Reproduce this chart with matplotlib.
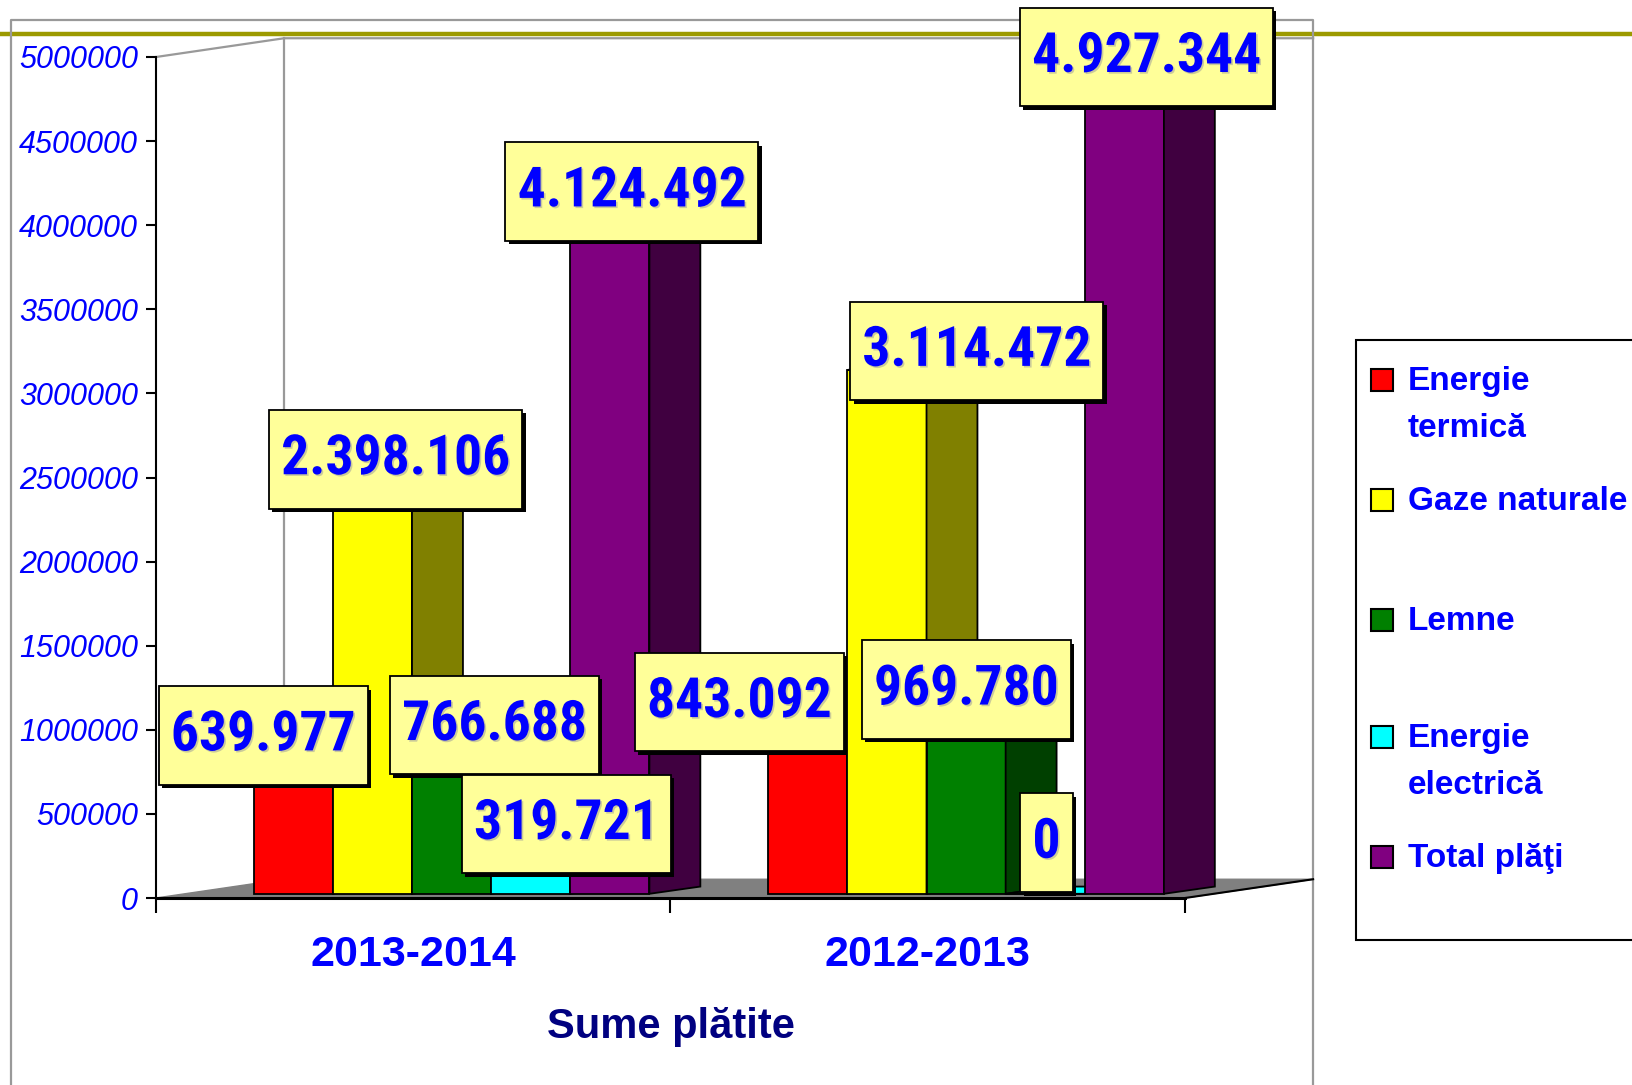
import matplotlib.pyplot as plt
import matplotlib.patheffects as pe
from matplotlib.patches import Polygon, Rectangle
from matplotlib.lines import Line2D
from matplotlib.path import Path

# data
categories = ['2013-2014', '2012-2013']
series = ['Energie\ntermică', 'Gaze naturale', 'Lemne', 'Energie\nelectrică', 'Total plăţi']
energie_termica = [639977, 843092]
gaze_naturale = [2398106, 3114472]
lemne = [766688, 969780]
energie_electrica = [319721, 0]
total_plati = [4124492, 4927344]
values = [energie_termica, gaze_naturale, lemne, energie_electrica, total_plati]
yticks = list(range(0, 5000001, 500000))

# styles
front_colors = ['#ff0000', '#ffff00', '#008000', '#00ffff', '#800080']
side_colors = ['#800000', '#808000', '#004000', '#008080', '#400040']
blue = '#0000ff'
narrow = ['Roboto Condensed', 'Liberation Sans', 'DejaVu Sans']
wide = ['Liberation Sans', 'DejaVu Sans']

# label box centres (layout, data coords): one per series per category
label_pos = [[(0.2085, 966600), (1.1336, 1164800)],
             [(0.4656, 2608400), (1.5951, 3252800)],
             [(0.6579, 1028500), (1.5749, 1239200)],
             [(0.7976, 439900), (1.7308, 328400)],
             [(0.9251, 4200700), (1.9251, 5000000)]]

W, H = 1633, 1085
fig = plt.figure(figsize=(W / 100, H / 100), dpi=100)


def fx(px):
    return px / W


def fy(py):
    return 1 - py / H


def tall_box(x0, y0, width, height, mutation_size):
    # square box with more room above and below than at the sides
    px, py = 0.22 * mutation_size, 0.42 * mutation_size
    x0, y0 = x0 - px, y0 - py
    x1, y1 = x0 + width + 2 * px, y0 + height + 2 * py
    return Path([(x0, y0), (x1, y0), (x1, y1), (x0, y1), (x0, y0)], closed=True)


# olive rule across the slide, under everything
fig.add_artist(Line2D([0, 1], [fy(34), fy(34)], color='#9c9a00', lw=3.2, zorder=-2))
# outer chart frame
fig.add_artist(Line2D([fx(11), fx(11), fx(1313), fx(1313)], [fy(1100), fy(20), fy(20), fy(1100)],
                      color='#999999', lw=1.6, zorder=-1))

ax = fig.add_axes([fx(156), fy(898), fx(1185) - fx(156), fy(57) - fy(898)])
ax.patch.set_visible(False)
ax.set_xlim(0, 2)
ax.set_ylim(0, 5000000)

# 3d look
wall_dx, wall_dy = 0.249, 111500
bar_dx, bar_dy = 0.099, 43000
bar_w, bar_off, bar_base = 0.1538, 0.19, 25000

# floor and back wall
ax.add_patch(Polygon([(0, 0), (2, 0), (2 + wall_dx, wall_dy), (wall_dx, wall_dy)],
                     closed=True, facecolor='#808080', edgecolor='#808080', lw=1, zorder=1, clip_on=False))
ax.plot([2, 2 + wall_dx], [0, wall_dy], color='black', lw=1.5, zorder=2, clip_on=False)
ax.plot([0, wall_dx, 2 + wall_dx], [5000000, 5000000 + wall_dy, 5000000 + wall_dy],
        color='#999999', lw=1.6, zorder=1, clip_on=False)
ax.plot([wall_dx, wall_dx], [wall_dy, 5000000 + wall_dy], color='#999999', lw=1.6, zorder=1, clip_on=False)

for i, vals in enumerate(values):
    xs = [g + bar_off + i * bar_w for g in range(len(categories))]
    z = 3 + 2 * i
    ax.bar(xs, vals, width=bar_w, bottom=bar_base, align='edge', color=front_colors[i],
           edgecolor='black', lw=1.3, zorder=z)
    for x, v in zip(xs, vals):
        top = v + bar_base
        side = [(x + bar_w, bar_base), (x + bar_w + bar_dx, bar_base + bar_dy),
                (x + bar_w + bar_dx, top + bar_dy), (x + bar_w, top)]
        lid = [(x, top), (x + bar_w, top), (x + bar_w + bar_dx, top + bar_dy), (x + bar_dx, top + bar_dy)]
        ax.add_patch(Polygon(side, closed=True, facecolor=side_colors[i], edgecolor='black', lw=1.3,
                             zorder=z + 1, clip_on=False))
        ax.add_patch(Polygon(lid, closed=True, facecolor=front_colors[i], edgecolor='black', lw=1.3,
                             zorder=z + 1, clip_on=False))

# value labels in yellow boxes with shadow
for i, vals in enumerate(values):
    for g, v in enumerate(vals):
        lx, ly = label_pos[i][g]
        t = ax.text(lx, ly, f"{v:,}".replace(',', '.'), ha='center', va='center',
                    fontsize=40, fontweight='bold', family=narrow, color=blue, zorder=30,
                    bbox=dict(boxstyle=tall_box, facecolor='#ffff99', edgecolor='black', lw=1.3),
                    clip_on=False)
        t.set_path_effects([pe.withSimplePatchShadow(offset=(1.2, -1.2), shadow_rgbFace='#999999', alpha=0.5)])
        t.get_bbox_patch().set_path_effects([pe.SimplePatchShadow(offset=(2.5, -2.5), shadow_rgbFace='black', alpha=1),
                                             pe.Normal()])

# axes
for s in ['top', 'right']:
    ax.spines[s].set_visible(False)
ax.spines['left'].set_linewidth(1.5)
ax.spines['bottom'].set_linewidth(2.2)
ax.set_yticks(yticks)
ax.set_yticklabels([str(v) for v in yticks])
ax.tick_params(axis='y', length=7, width=1.5, pad=6, labelcolor=blue, labelsize=22)
for lab in ax.get_yticklabels():
    lab.set_fontstyle('italic')
    lab.set_family(wide)
ax.set_xticks([0, 1, 2])
ax.set_xticklabels([])
ax.tick_params(axis='x', which='major', length=11, width=1.5)
ax.set_xticks([0.5, 1.5], minor=True)
ax.set_xticklabels(categories, minor=True)
ax.tick_params(axis='x', which='minor', length=0, pad=27, labelcolor=blue, labelsize=31)
for lab in ax.get_xticklabels(minor=True):
    lab.set_fontweight('bold')
    lab.set_family(wide)
ax.set_xlabel('Sume plătite', fontsize=30, fontweight='bold', color='#000080', family=wide, labelpad=23)

# legend (drawn by hand to keep the uneven slide layout)
fig.add_artist(Rectangle((fx(1356), fy(940)), fx(1700) - fx(1356), fy(340) - fy(940),
                         facecolor='white', edgecolor='black', lw=1.5))
legend_y = [380, 500, 620, 737, 857]
for name, c, py in zip(series, front_colors, legend_y):
    fig.add_artist(Rectangle((fx(1371), fy(py + 11)), fx(22), 22 / H, facecolor=c, edgecolor='black', lw=1.5))
    fig.text(fx(1408), fy(py - 14), name, ha='left', va='top', fontsize=24, fontweight='bold',
             color=blue, family=wide, linespacing=1.66)

fig.savefig('out.png', dpi=100)
